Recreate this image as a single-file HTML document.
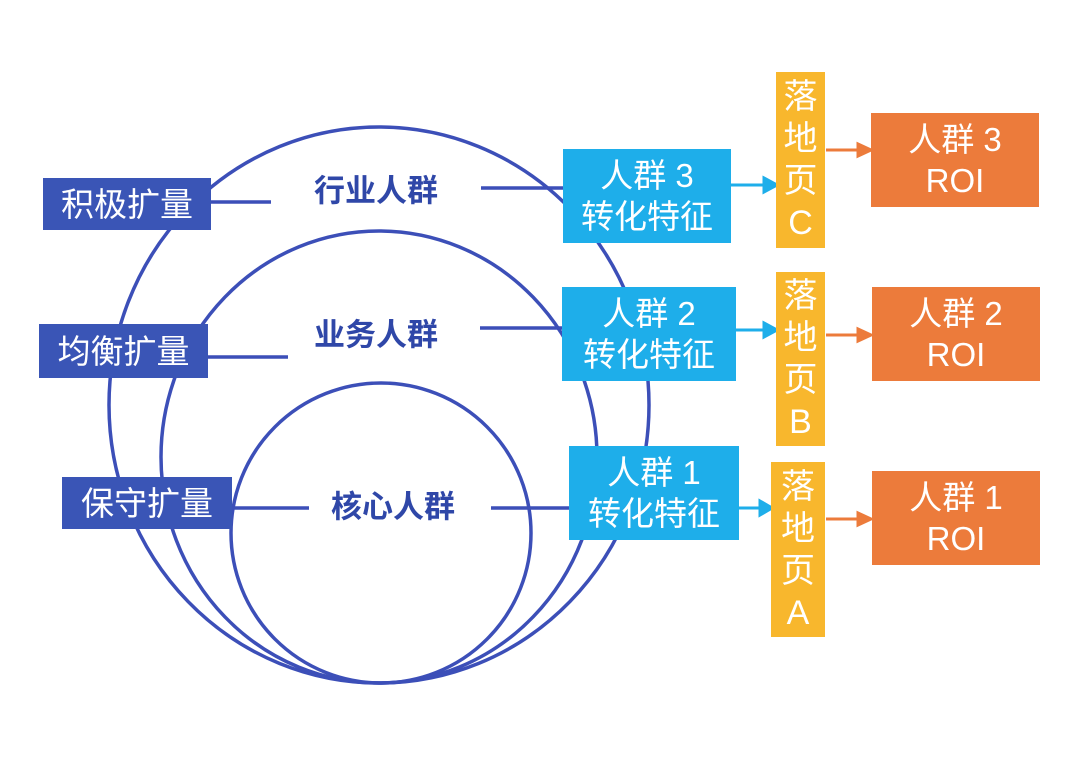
<!DOCTYPE html>
<html><head><meta charset="utf-8"><style>
body{margin:0;background:#fff;width:1080px;height:757px;overflow:hidden;position:relative;font-family:"Liberation Sans","Noto Sans CJK SC",sans-serif}
.b{position:absolute;color:#fff;display:flex;flex-direction:column;align-items:center;justify-content:center;text-align:center;font-size:33px;line-height:41px;white-space:nowrap}
.d{background:#3a55b6}.l{background:#1eaeea}.y{background:#f8b72d;font-size:34px;line-height:42px}.o{background:#ec7b3b}
.t{position:absolute;color:#2f47a8;font-weight:bold;font-size:31px;transform:translate(-50%,-50%);white-space:nowrap}
svg{position:absolute;left:0;top:0}
</style></head><body>
<svg width="1080" height="757">
<g fill="none" stroke="#3c4fb8" stroke-width="3.5">
<ellipse cx="379" cy="405" rx="270" ry="278"/>
<ellipse cx="379" cy="457" rx="218" ry="226"/>
<ellipse cx="381" cy="533" rx="150" ry="150"/>
<line x1="211" y1="202" x2="271" y2="202"/>
<line x1="208" y1="357" x2="288" y2="357"/>
<line x1="232" y1="508" x2="309" y2="508"/>
<line x1="481" y1="188" x2="565" y2="188"/>
<line x1="480" y1="328" x2="563" y2="328"/>
<line x1="491" y1="508" x2="570" y2="508"/>
</g>
<g stroke="#1eaeea" stroke-width="3" fill="#1eaeea">
<line x1="731" y1="185" x2="766" y2="185"/><polygon points="764,178 777,185 764,192"/>
<line x1="736" y1="330" x2="766" y2="330"/><polygon points="764,323 777,330 764,337"/>
<line x1="739" y1="508" x2="762" y2="508"/><polygon points="760,501 772,508 760,515"/>
</g>
<g stroke="#ec7b3b" stroke-width="3" fill="#ec7b3b">
<line x1="826" y1="150" x2="860" y2="150"/><polygon points="858,144 871,150 858,156"/>
<line x1="826" y1="335" x2="860" y2="335"/><polygon points="858,329 871,335 858,341"/>
<line x1="826" y1="519" x2="860" y2="519"/><polygon points="858,513 871,519 858,525"/>
</g>
</svg>
<div class="b d" style="left:43px;top:178px;width:168px;height:52px">积极扩量</div>
<div class="b d" style="left:39px;top:324px;width:169px;height:54px">均衡扩量</div>
<div class="b d" style="left:62px;top:477px;width:170px;height:52px">保守扩量</div>
<div class="t" style="left:376px;top:188px">行业人群</div>
<div class="t" style="left:376px;top:332px">业务人群</div>
<div class="t" style="left:393px;top:504px">核心人群</div>
<div class="b l" style="left:563px;top:149px;width:168px;height:94px"><div>人群 3</div><div>转化特征</div></div>
<div class="b l" style="left:562px;top:287px;width:174px;height:94px"><div>人群 2</div><div>转化特征</div></div>
<div class="b l" style="left:569px;top:446px;width:170px;height:94px"><div>人群 1</div><div>转化特征</div></div>
<div class="b y" style="left:776px;top:72px;width:49px;height:176px"><div>落</div><div>地</div><div>页</div><div>C</div></div>
<div class="b y" style="left:776px;top:272px;width:49px;height:174px"><div>落</div><div>地</div><div>页</div><div>B</div></div>
<div class="b y" style="left:771px;top:462px;width:54px;height:175px"><div>落</div><div>地</div><div>页</div><div>A</div></div>
<div class="b o" style="left:871px;top:113px;width:168px;height:94px"><div>人群 3</div><div>ROI</div></div>
<div class="b o" style="left:872px;top:287px;width:168px;height:94px"><div>人群 2</div><div>ROI</div></div>
<div class="b o" style="left:872px;top:471px;width:168px;height:94px"><div>人群 1</div><div>ROI</div></div>
</body></html>
